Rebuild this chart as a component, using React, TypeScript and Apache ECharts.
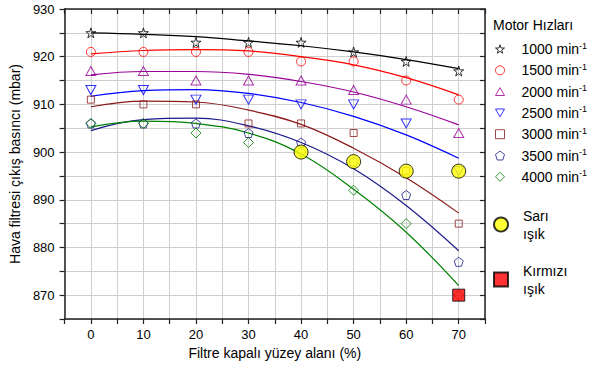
import React, { useEffect, useRef } from 'react';
import * as echarts from 'echarts';

// ---- data ----
const xValues = [0, 10, 20, 30, 40, 50, 60, 70];
const speedNames = ['1000 min', '1500 min', '2000 min', '2500 min', '3000 min', '3500 min', '4000 min'];

// measured points (mbar)
const p1000 = [925, 925, 923, 923, 923, 921, 919, 917];
const p1500 = [921, 921, 921, 921, 919, 919, 915, 911];
const p2000 = [917, 917, 915, 915, 915, 913, 911, 904];
const p2500 = [913, 913, 911, 911, 910, 910, 906, 896];
const p3000 = [911, 910, 910, 906, 906, 904, 896, 885];
const p3500 = [906, 906, 906, 904, 902, 898, 891, 877];
const p4000 = [906, 906, 904, 902, 900, 892, 885, 870];

// fitted curves
const f1000 = [925.0, 924.7, 924.2, 923.3, 922.3, 921.0, 919.4, 917.5];
const f1500 = [920.6, 921.3, 921.5, 921.2, 920.0, 918.3, 915.6, 912.0];
const f2000 = [916.2, 916.9, 916.9, 916.3, 914.8, 912.6, 909.5, 905.7];
const f2500 = [911.7, 912.9, 913.1, 912.3, 910.4, 907.5, 903.6, 898.7];
const f3000 = [909.5, 910.7, 910.5, 908.8, 905.8, 900.8, 894.6, 887.2];
const f3500 = [904.5, 906.8, 907.1, 905.5, 902.0, 896.5, 888.8, 879.3];
const f4000 = [905.3, 906.5, 906.0, 904.0, 899.6, 892.2, 883.2, 872.0];

// highlighted states
const yellowX = [40, 50, 60, 70];
const yellowY = [900, 898, 896, 896];
const redX = [70];
const redY = [870];

const xTickLabels = [0, 10, 20, 30, 40, 50, 60, 70];
const yTickLabels = [870, 880, 890, 900, 910, 920, 930];

const pointSets = [p1000, p1500, p2000, p2500, p3000, p3500, p4000];
const fitSets = [f1000, f1500, f2000, f2500, f3000, f3500, f4000];

const colors = ['#000000', '#ff0000', '#990099', '#0000ff', '#8b1a1a', '#1a1a8c', '#008000'];
const symbols = [
  'path://M50,0 L61,35 L98,35 L68,57 L79,91 L50,70 L21,91 L32,57 L2,35 L39,35 Z',
  'circle',
  'path://M50,0 L100,87 L0,87 Z',
  'path://M0,0 L100,0 L50,87 Z',
  'rect',
  'path://M50,0 L100,38 L81,100 L19,100 L0,38 Z',
  'diamond',
];
const sizes = [10, 9, [10, 9], [10, 9], 7, 9, 10];

const FONT = '"Liberation Sans", Arial, sans-serif';

export default function App() {
  const ref = useRef<HTMLDivElement>(null);

  useEffect(() => {
    if (!ref.current) return;
    document.body.style.margin = '0';
    const chart = echarts.init(ref.current, undefined, { renderer: 'svg' });

    const series: any[] = [];
    fitSets.forEach((f, i) => {
      series.push({
        name: 'fit' + i,
        type: 'line',
        data: xValues.map((x, k) => [x, f[k]]),
        smooth: 0.4,
        symbol: 'none',
        showSymbol: false,
        lineStyle: { color: colors[i], width: 1.2 },
        itemStyle: { color: colors[i] },
        silent: true,
        z: 2,
      });
    });
    pointSets.forEach((p, i) => {
      series.push({
        name: speedNames[i],
        type: 'scatter',
        data: xValues.map((x, k) => [x, p[k]]),
        symbol: symbols[i],
        symbolSize: sizes[i],
        itemStyle: { color: 'transparent', borderColor: colors[i], borderWidth: 1 },
        z: 3,
      });
    });
    series.push({
      name: 'Sarı\nışık',
      type: 'scatter',
      data: yellowX.map((x, k) => [x, yellowY[k]]),
      symbol: 'circle',
      symbolSize: 14,
      itemStyle: { color: '#ffff00', borderColor: '#000', borderWidth: 1 },
      z: 5,
    });
    series.push({
      name: 'Kırmızı\nışık',
      type: 'scatter',
      data: redX.map((x, k) => [x, redY[k]]),
      symbol: 'rect',
      symbolSize: 12,
      itemStyle: { color: '#ff0000', borderColor: '#000', borderWidth: 1 },
      z: 5,
    });

    const axisLine = { show: true, onZero: false, lineStyle: { color: '#222', width: 1.5 } };
    const grid = { show: true, lineStyle: { color: '#cfcfcf', width: 1 } };

    chart.setOption({
      animation: false,
      textStyle: { fontFamily: FONT },
      title: {
        text: 'Motor Hızları',
        left: 488,
        top: 13,
        textStyle: { fontSize: 14, fontWeight: 'normal', color: '#000', fontFamily: FONT },
      },
      grid: { left: 64, top: 9, right: 106, bottom: 48, containLabel: false },
      legend: [
        {
          data: speedNames,
          orient: 'vertical',
          left: 490,
          top: 36,
          itemWidth: 9,
          itemHeight: 9,
          itemGap: 6.3,
          itemStyle: { borderWidth: 1 },
          formatter: (name: string) => `{n|${name}}{s|-1}`,
          textStyle: {
            fontFamily: FONT,
            rich: {
              n: { fontSize: 14, color: '#000', lineHeight: 16, padding: [0, 0, 0, 12], fontFamily: FONT },
              s: { fontSize: 9, color: '#000', lineHeight: 16, verticalAlign: 'top', padding: [0, 0, 6, 0], fontFamily: FONT },
            },
          },
        },
        {
          data: ['Sarı\nışık', 'Kırmızı\nışık'],
          orient: 'vertical',
          left: 488,
          top: 195,
          itemWidth: 14,
          itemHeight: 14,
          itemGap: 6,
          textStyle: {
            fontFamily: FONT,
            fontSize: 14,
            color: '#000',
            lineHeight: 18,
            padding: [13, 0, 0, 10],
          },
        },
      ],
      xAxis: [
        {
          type: 'value',
          min: -5,
          max: 75,
          interval: 5,
          name: 'Filtre kapalı yüzey alanı (%)',
          nameLocation: 'middle',
          nameGap: 27,
          nameTextStyle: { fontSize: 14, color: '#000', fontFamily: FONT },
          axisLine,
          axisTick: { show: true, inside: false, length: 5, lineStyle: { color: '#222', width: 1.2 } },
          axisLabel: {
            margin: 9,
            fontSize: 13,
            color: '#000',
            fontFamily: FONT,
            formatter: (v: number) => (xTickLabels.includes(v) ? String(v) : ''),
          },
          splitLine: grid,
        },
        {
          type: 'value',
          position: 'top',
          min: -5,
          max: 75,
          interval: 5,
          axisLine,
          axisTick: { show: true, inside: true, length: 5, lineStyle: { color: '#222', width: 1.2 } },
          axisLabel: { show: false },
          splitLine: { show: false },
        },
      ],
      yAxis: [
        {
          type: 'value',
          min: 865,
          max: 930,
          interval: 5,
          name: 'Hava filtresi çıkış basıncı (mbar)',
          nameLocation: 'middle',
          nameGap: 40,
          nameTextStyle: { fontSize: 14, color: '#000', fontFamily: FONT },
          axisLine,
          axisTick: { show: true, inside: false, length: 5, lineStyle: { color: '#222', width: 1.2 } },
          axisLabel: {
            margin: 10,
            fontSize: 13,
            color: '#000',
            fontFamily: FONT,
            formatter: (v: number) => (yTickLabels.includes(v) ? String(v) : ''),
          },
          splitLine: grid,
        },
        {
          type: 'value',
          position: 'right',
          min: 865,
          max: 930,
          interval: 5,
          axisLine,
          axisTick: { show: true, inside: true, length: 5, lineStyle: { color: '#222', width: 1.2 } },
          axisLabel: { show: false },
          splitLine: { show: false },
        },
      ],
      series,
    });

    return () => chart.dispose();
  }, []);

  return <div ref={ref} style={{ width: 591, height: 367 }} />;
}
